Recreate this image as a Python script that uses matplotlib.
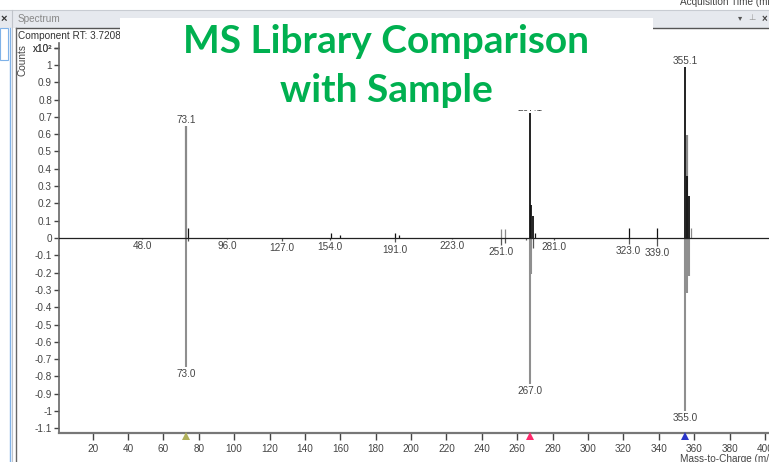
import matplotlib
matplotlib.use('Agg')
import matplotlib.pyplot as plt
from matplotlib.lines import Line2D
from matplotlib.patches import Rectangle
import numpy as np

plt.rcParams['font.family'] = ['Liberation Sans', 'DejaVu Sans']

# ---------------- data ----------------
# sample spectrum (upward), scaled counts x10^2
sample_mz = [73, 74, 155, 160, 191, 193, 251, 253, 267, 268, 269, 270, 323, 339, 355, 356, 356, 357, 358]
sample_int = [0.65, 0.06, 0.03, 0.02, 0.03, 0.02, 0.05, 0.05, 0.72, 0.19, 0.125, 0.03, 0.06, 0.06, 0.99, 0.595, 0.36, 0.24, 0.06]
sample_shade = ['gray', 'dark', 'dark', 'dark', 'dark', 'dark', 'gray', 'gray', 'dark', 'dark', 'dark', 'dark',
                'dark', 'dark', 'dark', 'gray', 'dark', 'dark', 'gray']
sample_labels = {73: '73.1', 267: '267.1', 355: '355.1'}

# library spectrum (drawn downward)
lib_mz = [48, 73, 74, 96, 127, 154, 191, 223, 251, 253, 265, 267, 268, 269, 281, 323, 339, 355, 356, 357]
lib_int = [0.005, 0.745, 0.02, 0.005, 0.015, 0.012, 0.025, 0.005, 0.04, 0.03, 0.01, 0.845, 0.21, 0.06, 0.013,
           0.035, 0.044, 1.00, 0.32, 0.22]
lib_labels = {48: '48.0', 73: '73.0', 96: '96.0', 127: '127.0', 154: '154.0', 191: '191.0', 223: '223.0',
              251: '251.0', 267: '267.0', 281: '281.0', 323: '323.0', 339: '339.0', 355: '355.0'}

# target markers on the x axis
marker_mz = [73, 267, 355]
marker_colors = ['#b0b05a', '#ff2a6d', '#2a35c8']

yticks = [round(v, 1) for v in np.arange(-1.1, 1.15, 0.1)]
xticks = list(range(20, 401, 20))

# ---------------- figure ----------------
W, H = 769, 462
fig = plt.figure(figsize=(W / 100, H / 100), dpi=100)
fig.patch.set_facecolor('white')

def fx(px):
    return px / W

def fy(py):
    return 1 - py / H

ax = fig.add_axes([fx(59), fy(433), fx(769 - 59), (433 - 43) / H])
ax.set_xlim(1, 402.3)
ax.set_ylim(-1.127, 1.127)

shade_col = {'dark': '#111111', 'gray': '#8a8a8a'}
shade_lw = {'dark': 1.3, 'gray': 1.6}
# sample (gray first, then dark on top)
for order in ['gray', 'dark']:
    for m, v, s in zip(sample_mz, sample_int, sample_shade):
        if s == order:
            lw = shade_lw[s] if v > 0.1 else 0.9
            ax.vlines(m, 0, v, color=shade_col[s], lw=lw, zorder=3)
for m, v in zip(lib_mz, lib_int):
    lw = 1.5 if v > 0.1 else 0.9
    col = '#8f8f8f' if v > 0.1 else '#555555'
    ax.vlines(m, 0, -v, color=col, lw=lw, zorder=2)

ax.axhline(0, color='#222222', lw=0.9, zorder=4)

FS = 7.2
lab_kw = dict(fontsize=FS, color='#444444', ha='center')
for m, v in zip(sample_mz, sample_int):
    if m in sample_labels and v > 0.5:
        ax.annotate(sample_labels[m], (m, v), xytext=(0, 4), textcoords='offset points',
                    va='center', **lab_kw)
for m, v in zip(lib_mz, lib_int):
    if m in lib_labels:
        ax.annotate(lib_labels[m], (m, -v), xytext=(0, -5.2), textcoords='offset points',
                    va='center', **lab_kw)

for m, c in zip(marker_mz, marker_colors):
    ax.plot([m], [-1.142], marker='^', color=c, markersize=6, clip_on=False, zorder=6,
            markeredgewidth=0)

for s in ['top', 'right']:
    ax.spines[s].set_visible(False)
ax.spines['left'].set_color('#666666')
ax.spines['bottom'].set_color('#777777')
ax.spines['left'].set_linewidth(1.2)
ax.spines['bottom'].set_linewidth(1.6)

ax.set_yticks(yticks + [1.1])
ylabels = [f'{v:g}' for v in yticks] + ['x10²']
ax.set_yticklabels(ylabels)
ax.set_xticks(xticks)
ax.set_xticklabels([str(t) for t in xticks])
ax.tick_params(axis='both', labelsize=FS, colors='#444444', length=3.5, width=1, pad=1.5)
ax.tick_params(axis='x', length=5, pad=3)
for lab in ax.get_xticklabels() + ax.get_yticklabels():
    lab.set_color('#444444')

# ---------------- window chrome ----------------
fig.add_artist(Rectangle((fx(0), fy(28)), 1, 18 / H, transform=fig.transFigure,
                         facecolor='#e6e9ee', edgecolor='none', zorder=0))
fig.add_artist(Line2D([0, 1], [fy(10), fy(10)], transform=fig.transFigure, color='#c8ccd2', lw=0.8))
fig.add_artist(Line2D([fx(16), 1], [fy(28), fy(28)], transform=fig.transFigure, color='#555555', lw=1.0))
fig.add_artist(Line2D([fx(12), fx(12)], [fy(10), 0], transform=fig.transFigure, color='#c0c4ca', lw=0.8))
fig.add_artist(Line2D([fx(10), fx(10)], [fy(28), 0], transform=fig.transFigure, color='#7fb2e8', lw=1.0))
fig.add_artist(Line2D([fx(16), fx(16)], [fy(28), 0], transform=fig.transFigure, color='#666666', lw=1.0))
fig.add_artist(Rectangle((fx(0), fy(60)), fx(8), 32 / H, transform=fig.transFigure,
                         facecolor='white', edgecolor='#7fb2e8', lw=0.8))
fig.text(fx(4), fy(19), '×', fontsize=8, fontweight='bold', color='#333333', ha='center', va='center')
fig.text(fx(18), fy(19), 'Spectrum', fontsize=FS, color='#888888', ha='left', va='center')
fig.text(fx(740), fy(19), '▾', fontsize=6, color='#555555', ha='center', va='center')
fig.text(fx(752), fy(19), '⊥', fontsize=6, color='#999999', ha='center', va='center')
fig.text(fx(764), fy(19), '×', fontsize=7, fontweight='bold', color='#444444', ha='center', va='center')
fig.text(fx(680), fy(2), 'Acquisition Time (min)', fontsize=FS, color='#444444', ha='left', va='center')
fig.text(fx(18), fy(36), 'Component RT: 3.7208', fontsize=FS, color='#333333', ha='left', va='center')
fig.text(fx(23), fy(60), 'Counts', fontsize=FS, color='#444444', rotation=90, ha='center', va='center')
fig.text(fx(680), fy(459), 'Mass-to-Charge (m/z)', fontsize=FS, color='#444444', ha='left', va='center')

# ---------------- title box ----------------
fig.add_artist(Rectangle((fx(120), fy(110)), fx(653 - 120), (110 - 18) / H, transform=fig.transFigure,
                         facecolor='white', edgecolor='none', zorder=10))
title_kw = dict(fontsize=28, fontweight='bold', color='#00b050', family='Lato', ha='center',
                va='baseline', zorder=11)
fig.text(fx(386), fy(53), 'MS Library Comparison', **title_kw)
fig.text(fx(386), fy(102), 'with Sample', **title_kw)

fig.savefig('out.png', dpi=100, facecolor='white')
